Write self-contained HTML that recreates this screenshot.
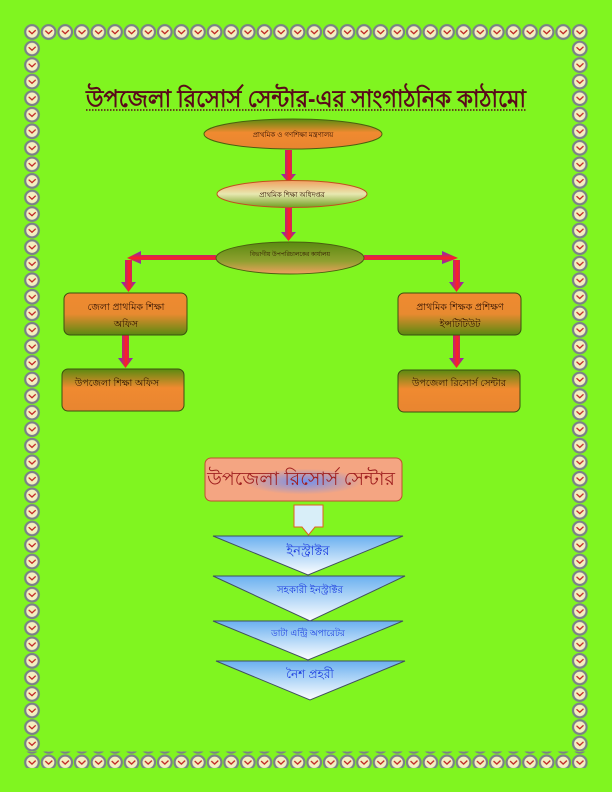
<!DOCTYPE html>
<html><head><meta charset="utf-8"><style>
html,body{margin:0;padding:0;background:#80f520;}
svg{display:block}
text{font-family:"Liberation Sans","Noto Sans CJK SC",sans-serif;}
</style></head><body>
<svg width="612" height="792" viewBox="0 0 612 792" xmlns="http://www.w3.org/2000/svg">
<defs>
<pattern id="ch" x="23.7" y="23.7" width="16.6" height="16.6" patternUnits="userSpaceOnUse">
<circle cx="8.3" cy="8.3" r="6.8" fill="#f4f0c0" stroke="#7a8088" stroke-width="2.2"/>
<path d="M5 7 L8.3 10 L12 6.5" stroke="#c02020" stroke-width="1.3" fill="none"/>
</pattern>
<pattern id="cv" x="23.7" y="23.7" width="16.6" height="16.55" patternUnits="userSpaceOnUse">
<circle cx="8.3" cy="8.3" r="6.8" fill="#f4f0c0" stroke="#7a8088" stroke-width="2.2"/>
<path d="M5 7 L8.3 10 L12 6.5" stroke="#c02020" stroke-width="1.3" fill="none"/>
</pattern>
<linearGradient id="og" x1="0" y1="0" x2="0" y2="1"><stop offset="0" stop-color="#5a8a10"/><stop offset="0.45" stop-color="#f08a30"/><stop offset="1" stop-color="#e88530"/></linearGradient>
<linearGradient id="bx" x1="0" y1="0" x2="0" y2="1"><stop offset="0" stop-color="#f08a30"/><stop offset="0.5" stop-color="#e88a30"/><stop offset="1" stop-color="#5a8a10"/></linearGradient>
<linearGradient id="e2" x1="0" y1="0" x2="0" y2="1"><stop offset="0" stop-color="#f0a060"/><stop offset="0.5" stop-color="#e8e8b0"/><stop offset="1" stop-color="#70a020"/></linearGradient>
<linearGradient id="e3" x1="0" y1="0" x2="0" y2="1"><stop offset="0" stop-color="#5a8a10"/><stop offset="0.6" stop-color="#90a030"/><stop offset="1" stop-color="#f0a060"/></linearGradient>
<linearGradient id="tri" x1="0" y1="0" x2="0" y2="1"><stop offset="0" stop-color="#6ab0f0"/><stop offset="1" stop-color="#ffffff"/></linearGradient>
<radialGradient id="ur" cx="0.5" cy="0.55" r="0.5"><stop offset="0" stop-color="#7090f0"/><stop offset="0.6" stop-color="#f4a582"/></radialGradient>
<linearGradient id="arv" x1="0" y1="0" x2="1" y2="0"><stop offset="0" stop-color="#7030d0"/><stop offset="0.55" stop-color="#ff2020"/><stop offset="1" stop-color="#7030d0"/></linearGradient>
<linearGradient id="arh" x1="0" y1="0" x2="0" y2="1"><stop offset="0" stop-color="#7030d0"/><stop offset="0.55" stop-color="#ff2020"/><stop offset="1" stop-color="#7030d0"/></linearGradient>
</defs>
<rect x="23.7" y="23.7" width="564" height="16.6" fill="url(#ch)"/>
<rect x="23.7" y="751.5" width="564" height="16.6" fill="url(#ch)"/>
<rect x="23.7" y="40" width="16.6" height="711" fill="url(#cv)"/>
<rect x="571.3" y="40" width="16.6" height="711" fill="url(#cv)"/>

<text x="306" y="107" text-anchor="middle" font-size="24" font-weight="bold" fill="#5a0a1a" textLength="440" lengthAdjust="spacingAndGlyphs">উপজেলা রিসোর্স সেন্টার-এর সাংগাঠনিক কাঠামো</text>
<line x1="86" y1="110" x2="526" y2="110" stroke="#5a0a1a" stroke-width="1.5" stroke-dasharray="1.5 1.5"/>

<g fill="url(#arv)">
<path d="M285 150 h7 v24 h4 l-7.5 9 l-7.5 -9 h4z"/>
<path d="M285 208 h7 v24 h4 l-7.5 9 l-7.5 -9 h4z"/>
<path d="M125 260 h7 v22 h4 l-7.5 10 l-7.5 -10 h4z"/>
<path d="M453 260 h7 v22 h4 l-7.5 10 l-7.5 -10 h4z"/>
<path d="M122 335 h7 v23 h4 l-7.5 10 l-7.5 -10 h4z"/>
<path d="M453 335 h7 v23 h4 l-7.5 10 l-7.5 -10 h4z"/>
</g>
<g fill="url(#arh)">
<path d="M216 255 h-75 v-4 l-14 7 l14 6 v-4 h75z"/>
<path d="M364 255 h78 v-4 l16 7 l-16 6 v-4 h-78z"/>
</g>

<ellipse cx="293" cy="134" rx="89" ry="15" fill="url(#og)" stroke="#4a6010" stroke-width="1"/>
<text x="293" y="137" text-anchor="middle" font-size="7" fill="#301000">প্রাথমিক ও গণশিক্ষা মন্ত্রণালয়</text>
<ellipse cx="292" cy="194" rx="75" ry="13.5" fill="url(#e2)" stroke="#c05020" stroke-width="1"/>
<text x="292" y="197" text-anchor="middle" font-size="7" fill="#301000">প্রাথমিক শিক্ষা অধিদপ্তর</text>
<ellipse cx="290" cy="258" rx="74" ry="16" fill="url(#e3)" stroke="#4a6010" stroke-width="1"/>
<text x="290" y="256" text-anchor="middle" font-size="6" fill="#301000">বিভাগীয় উপপরিচালকের কার্যালয়</text>

<g stroke="#3a5010" stroke-width="1">
<rect x="64" y="293" width="123" height="42" rx="6" fill="url(#bx)"/>
<rect x="398" y="293" width="123" height="42" rx="6" fill="url(#bx)"/>
<rect x="62" y="369" width="122" height="42" rx="6" fill="url(#og)"/>
<rect x="398" y="370" width="122" height="42" rx="6" fill="url(#og)"/>
</g>
<g font-size="9.5" fill="#301000" text-anchor="middle">
<text x="126" y="310">জেলা প্রাথমিক শিক্ষা</text>
<text x="126" y="327">অফিস</text>
<text x="460" y="310">প্রাথমিক শিক্ষক প্রশিক্ষণ</text>
<text x="460" y="327">ইন্সটিটিউট</text>
<text x="117" y="386">উপজেলা শিক্ষা অফিস</text>
<text x="459" y="386">উপজেলা রিসোর্স সেন্টার</text>
</g>

<rect x="205" y="458" width="197" height="43" rx="6" fill="url(#ur)" stroke="#c05030" stroke-width="1"/>
<text x="301" y="485" text-anchor="middle" font-size="19" fill="#a02020">উপজেলা রিসোর্স সেন্টার</text>
<path d="M294 505 h29 v22 h-8 l-6.5 8 l-6.5 -8 h-8z" fill="#d8eef8" stroke="#e06020" stroke-width="1"/>
<g stroke="#405060" stroke-width="1" fill="url(#tri)">
<path d="M213 536 L403 536 L308 575z"/>
<path d="M213 576 L405 576 L310 621z"/>
<path d="M213 621 L403 621 L308 660z"/>
<path d="M216 661 L405 661 L310 700z"/>
</g>
<g fill="#2040e0" text-anchor="middle">
<text x="308" y="555" font-size="13">ইনস্ট্রাক্টর</text>
<text x="310" y="593" font-size="10">সহকারী ইনস্ট্রাক্টর</text>
<text x="308" y="636" font-size="9">ডাটা এন্ট্রি অপারেটর</text>
<text x="310" y="678" font-size="12">নৈশ প্রহরী</text>
</g>
</svg>
</body></html>
